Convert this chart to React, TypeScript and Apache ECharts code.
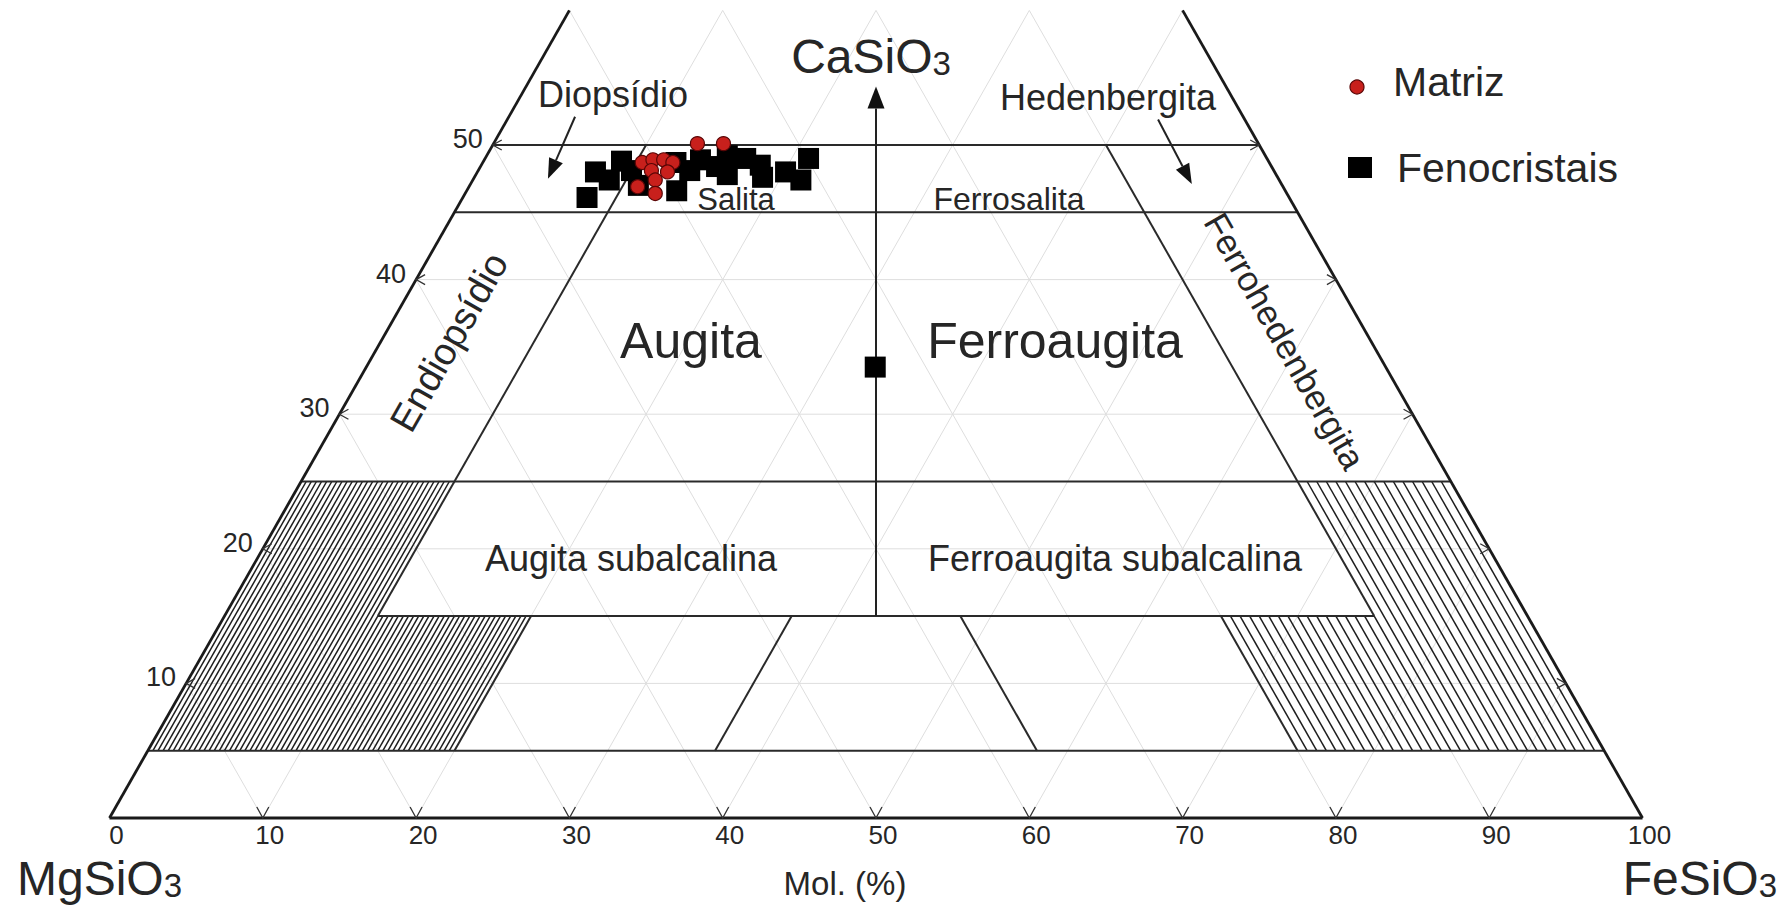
import React, { useEffect, useRef } from "react";
import * as echarts from "echarts";

// Compositions: [CaSiO3 (Wo) %, FeSiO3 (Fs) %]
const fenocristais: number[][] = [
  [46.1, 8.1], [48.0, 7.7], [47.4, 8.9], [48.8, 9.0], [47.0, 11.0], [48.1, 10.0],
  [46.6, 13.7], [48.7, 12.6], [48.1, 13.8], [48.9, 14.1], [48.4, 15.4], [49.2, 15.7],
  [47.8, 16.4], [49.0, 17.0], [48.5, 18.2], [47.6, 18.8], [48.0, 20.1], [47.4, 21.4],
  [49.0, 21.1], [33.5, 33.2],
];
const matriz: number[][] = [
  [48.7, 10.4], [48.9, 11.0], [48.9, 11.7], [48.7, 12.4], [48.1, 11.3], [48.0, 12.4],
  [47.4, 11.9], [46.9, 11.0], [46.4, 12.4], [50.1, 13.3], [50.1, 15.0],
];

const baseTicks = [0, 10, 20, 30, 40, 50, 60, 70, 80, 90, 100];
const caTicks = [10, 20, 30, 40, 50];
const gridLevels = [10, 20, 30, 40, 50, 60, 70, 80, 90];
const gridCaLevels = [10, 20, 30, 40];
const caTop = 60;

// horizontal field boundaries: [Wo, Fs at start, Mg at end]
const horizontalBounds = [
  [50, 0, 0], [45, 0, 0], [25, 0, 0], [15, 10, 10], [5, 0, 0],
];
// Fs-constant boundaries: [Fs, Wo from, Wo to]
const fsBounds = [[10, 15, 50], [20, 5, 15], [37, 5, 15]];
// Mg-constant boundaries: [Mg, Wo from, Wo to]
const mgBounds = [[10, 15, 50], [20, 5, 15], [37, 5, 15]];
const hatchBottomWo = 5;

const FONT = '"Liberation Sans", Arial, Helvetica, sans-serif';
const TXT = "#262626";

const toXY = (wo: number, fs: number) => [fs + wo / 2, wo];
const mgPoint = (wo: number, mg: number) => toXY(wo, 100 - mg - wo);

function seg(a: number[], b: number[]) {
  return [a[0], a[1], b[0], b[1]];
}

function segSeries(data: number[][], color: string, width: number, z: number) {
  return {
    type: "custom",
    coordinateSystem: "cartesian2d",
    silent: true,
    z,
    encode: { x: [0, 2], y: [1, 3] },
    data,
    renderItem: (_p: any, api: any) => {
      const a = api.coord([api.value(0), api.value(1)]);
      const b = api.coord([api.value(2), api.value(3)]);
      return {
        type: "line",
        shape: { x1: a[0], y1: a[1], x2: b[0], y2: b[1] },
        style: { stroke: color, lineWidth: width, fill: null },
      };
    },
  };
}

export default function App() {
  const ref = useRef<HTMLDivElement>(null);
  useEffect(() => {
    if (!ref.current) return;
    const chart = echarts.init(ref.current, null, { renderer: "svg" });

    const gridSegs: number[][] = [];
    gridLevels.forEach((k) => {
      const top = Math.min(caTop, 100 - k);
      gridSegs.push(seg(toXY(0, k), toXY(top, k)));
      gridSegs.push(seg(mgPoint(0, k), mgPoint(top, k)));
    });
    gridCaLevels.forEach((w) => gridSegs.push(seg(toXY(w, 0), mgPoint(w, 0))));

    const hatchSegs: number[][] = [];
    for (let f = 1 / 3; f < 20 - 1e-6; f += 1 / 3) {
      const top = f < 10 - 1e-6 ? 25 : 15;
      hatchSegs.push(seg(toXY(hatchBottomWo, f), toXY(top, f)));
    }
    for (let m = 0.625; m < 20 - 1e-6; m += 0.625) {
      const top = m < 10 - 1e-6 ? 25 : 15;
      hatchSegs.push(seg(mgPoint(hatchBottomWo, m), mgPoint(top, m)));
    }

    const boundSegs: number[][] = [];
    horizontalBounds.forEach(([w, fs, mg]) => boundSegs.push(seg(toXY(w, fs), mgPoint(w, mg))));
    fsBounds.forEach(([fs, a, b]) => boundSegs.push(seg(toXY(a, fs), toXY(b, fs))));
    mgBounds.forEach(([mg, a, b]) => boundSegs.push(seg(mgPoint(a, mg), mgPoint(b, mg))));

    const frameSegs: number[][] = [
      seg(toXY(0, 0), toXY(0, 100)),
      seg(toXY(0, 0), toXY(caTop, 0)),
      seg(mgPoint(0, 0), mgPoint(caTop, 0)),
    ];

    // arrows: [x1, y1, x2, y2, headLen, headWidth] in diagram coords (X, Wo)
    const arrows = [
      [30.37, 52.1, 28.6, 47.5, 20, 15],
      [68.4, 51.9, 70.6, 47.1, 20, 15],
      [50, 15, 50, 54.35, 22, 17],
    ];

    const ticks: number[][] = [];
    baseTicks.slice(1, -1).forEach((t) => ticks.push([t, 0, 0]));
    caTicks.forEach((c) => {
      ticks.push([c / 2, c, 1]);
      ticks.push([100 - c / 2, c, 2]);
    });

    const sideLabels = caTicks.map((c) => [c / 2, c]);

    const option: any = {
      animation: false,
      backgroundColor: "#ffffff",
      grid: { left: 109.5, right: 141.5, top: 10.4, bottom: 88 },
      xAxis: {
        type: "value",
        min: 0,
        max: 100,
        interval: 10,
        axisLine: { show: false },
        axisTick: { show: false },
        splitLine: { show: false },
        axisLabel: {
          show: true,
          fontSize: 26,
          fontFamily: FONT,
          color: TXT,
          margin: 5,
          lineHeight: 24,
          padding: [0, 0, 0, 14],
          showMinLabel: true,
          showMaxLabel: true,
        },
      },
      yAxis: { type: "value", min: 0, max: 60, show: false },
      series: [
        segSeries(gridSegs, "#dedede", 1, 1),
        segSeries(hatchSegs, "#1e1e1e", 1.5, 2),
        segSeries(boundSegs, "#2a2a2a", 2, 3),
        segSeries(frameSegs, "#1a1a1a", 2.8, 4),
        {
          type: "custom",
          coordinateSystem: "cartesian2d",
          silent: true,
          z: 5,
          encode: { x: [0, 2], y: [1, 3] },
          data: arrows,
          renderItem: (_p: any, api: any) => {
            const a = api.coord([api.value(0), api.value(1)]);
            const b = api.coord([api.value(2), api.value(3)]);
            const len = api.value(4);
            const w = api.value(5);
            const dx = b[0] - a[0];
            const dy = b[1] - a[1];
            const d = Math.hypot(dx, dy);
            const ux = dx / d;
            const uy = dy / d;
            const base = [b[0] - ux * len, b[1] - uy * len];
            const px = -uy;
            const py = ux;
            return {
              type: "group",
              children: [
                {
                  type: "line",
                  shape: { x1: a[0], y1: a[1], x2: base[0], y2: base[1] },
                  style: { stroke: "#222", lineWidth: 2 },
                },
                {
                  type: "polygon",
                  shape: {
                    points: [
                      [b[0], b[1]],
                      [base[0] + (px * w) / 2, base[1] + (py * w) / 2],
                      [base[0] - (px * w) / 2, base[1] - (py * w) / 2],
                    ],
                  },
                  style: { fill: "#111" },
                },
              ],
            };
          },
        },
        {
          type: "custom",
          coordinateSystem: "cartesian2d",
          silent: true,
          z: 5,
          encode: { x: 0, y: 1 },
          data: ticks,
          renderItem: (_p: any, api: any) => {
            const p = api.coord([api.value(0), api.value(1)]);
            const k = api.value(2);
            let pts: number[][];
            if (k === 0) pts = [[p[0] - 6, p[1] - 11], [p[0], p[1]], [p[0] + 6, p[1] - 11]];
            else if (k === 1) pts = [[p[0] + 9, p[1] - 5], [p[0], p[1]], [p[0] + 9, p[1] + 5]];
            else pts = [[p[0] - 9, p[1] - 5], [p[0], p[1]], [p[0] - 9, p[1] + 5]];
            return {
              type: "polyline",
              shape: { points: pts },
              style: { stroke: "#333", lineWidth: 1.3, fill: null },
            };
          },
        },
        {
          type: "custom",
          coordinateSystem: "cartesian2d",
          silent: true,
          z: 5,
          encode: { x: 0, y: 1 },
          data: sideLabels,
          renderItem: (_p: any, api: any) => {
            const p = api.coord([api.value(0), api.value(1)]);
            return {
              type: "text",
              x: p[0] - 10,
              y: p[1] - 6,
              style: {
                text: String(api.value(1)),
                fontSize: 27,
                fontFamily: FONT,
                fill: TXT,
                align: "right",
                textAlign: "right",
                verticalAlign: "middle",
                textVerticalAlign: "middle",
              },
            };
          },
        },
        {
          type: "scatter",
          name: "Fenocristais",
          z: 6,
          symbol: "rect",
          symbolSize: 21,
          itemStyle: { color: "#000000", opacity: 1 },
          data: fenocristais.map(([wo, fs]) => toXY(wo, fs)),
        },
        {
          type: "scatter",
          name: "Matriz",
          z: 7,
          symbol: "circle",
          symbolSize: 14,
          itemStyle: { color: "#c8201c", borderColor: "#5a0606", borderWidth: 1.2, opacity: 1 },
          data: matriz.map(([wo, fs]) => toXY(wo, fs)),
        },
      ],
      graphic: [
        ...[
          { t: "{a|CaSiO}{b|3}", x: 871, y: 60, al: "center" },
          { t: "{a|MgSiO}{b|3}", x: 17, y: 882, al: "left" },
          { t: "{a|FeSiO}{b|3}", x: 1777, y: 882, al: "right" },
        ].map((o) => ({
          type: "text",
          x: o.x,
          y: o.y,
          z: 10,
          style: {
            text: o.t,
            align: o.al,
            textAlign: o.al,
            verticalAlign: "middle",
            textVerticalAlign: "middle",
            fill: TXT,
            rich: {
              a: { fontSize: 48, lineHeight: 40, fontFamily: FONT, fill: TXT, color: TXT, verticalAlign: "bottom" },
              b: { fontSize: 33, lineHeight: 40, fontFamily: FONT, fill: TXT, color: TXT, verticalAlign: "bottom" },
            },
          },
        })),
        ...[
          { t: "Mol. (%)", x: 845, y: 883, s: 33, r: 0 },
          { t: "Diopsídio", x: 613, y: 94, s: 36, r: 0 },
          { t: "Hedenbergita", x: 1108, y: 97, s: 36, r: 0 },
          { t: "Salita", x: 736, y: 199, s: 31, r: 0 },
          { t: "Ferrosalita", x: 1009, y: 199, s: 32, r: 0 },
          { t: "Augita", x: 691, y: 341, s: 50, r: 0 },
          { t: "Ferroaugita", x: 1055, y: 341, s: 50, r: 0 },
          { t: "Augita subalcalina", x: 631, y: 558, s: 36, r: 0 },
          { t: "Ferroaugita subalcalina", x: 1115, y: 558, s: 36, r: 0 },
          { t: "Endiopsídio", x: 449, y: 342, s: 38, r: (60.3 * Math.PI) / 180 },
          { t: "Ferrohedenbergita", x: 1285, y: 341, s: 35, r: (-60.3 * Math.PI) / 180 },
        ].map((o) => ({
          type: "text",
          x: o.x,
          y: o.y,
          rotation: o.r,
          z: 10,
          style: {
            text: o.t,
            fontSize: o.s,
            fontFamily: FONT,
            fill: TXT,
            align: "center",
            textAlign: "center",
            verticalAlign: "middle",
            textVerticalAlign: "middle",
          },
        })),
        {
          type: "circle",
          shape: { cx: 1357, cy: 87, r: 7 },
          style: { fill: "#c8201c", stroke: "#5a0606", lineWidth: 1.2 },
          z: 10,
        },
        {
          type: "text",
          x: 1393,
          y: 82,
          z: 10,
          style: { text: "Matriz", fontSize: 41, fontFamily: FONT, fill: TXT, verticalAlign: "middle", textVerticalAlign: "middle" },
        },
        {
          type: "rect",
          shape: { x: 1348, y: 157, width: 24, height: 21 },
          style: { fill: "#000" },
          z: 10,
        },
        {
          type: "text",
          x: 1397,
          y: 168,
          z: 10,
          style: { text: "Fenocristais", fontSize: 41, fontFamily: FONT, fill: TXT, verticalAlign: "middle", textVerticalAlign: "middle" },
        },
      ],
    };

    chart.setOption(option);
    return () => chart.dispose();
  }, []);

  return (
    <div
      ref={ref}
      style={{ position: "fixed", left: 0, top: 0, width: 1784, height: 906, background: "#fff" }}
    />
  );
}
